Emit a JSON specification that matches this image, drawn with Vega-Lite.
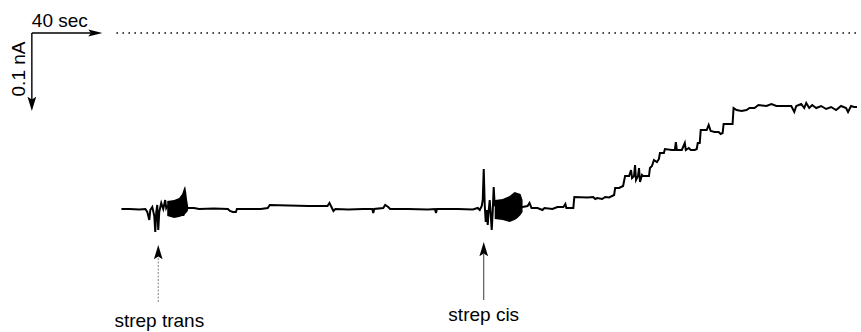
{
  "$schema": "https://vega.github.io/schema/vega-lite/v6.json",
  "width": 861,
  "height": 332,
  "autosize": {"type": "fit", "contains": "padding"},
  "padding": 0,
  "background": "white",
  "config": {"view": {"stroke": null}, "font": "Liberation Sans"},
  "datasets": {
    "trace": [
      {"t":122,"i":209},{"t":130,"i":209},{"t":140,"i":209.5},{"t":146,"i":209},{"t":148,"i":212},{"t":150,"i":220},{"t":151,"i":210},{"t":153,"i":207},{"t":155,"i":216},{"t":156,"i":232},{"t":157,"i":212},{"t":158,"i":205},{"t":159,"i":230},{"t":160,"i":212},{"t":162,"i":203},{"t":164,"i":209},{"t":166,"i":200},{"t":167,"i":208},{"t":168,"i":206},{"t":189,"i":208},
      {"t":195,"i":208},{"t":200,"i":209},{"t":215,"i":208.5},{"t":229,"i":209},{"t":231,"i":211},{"t":234,"i":212},{"t":237,"i":212},{"t":238,"i":209},{"t":250,"i":209},{"t":262,"i":209},{"t":269,"i":208},{"t":271,"i":205},{"t":290,"i":205.5},{"t":310,"i":206},{"t":329,"i":206},{"t":331,"i":203},{"t":333,"i":207},{"t":335,"i":211},{"t":337,"i":209},{"t":350,"i":209.5},{"t":365,"i":209},{"t":374,"i":209},{"t":375,"i":213},{"t":376,"i":209},{"t":385,"i":208},{"t":387,"i":205},{"t":390,"i":207},{"t":392,"i":209},{"t":410,"i":209},{"t":430,"i":209.5},{"t":437,"i":209},{"t":438,"i":213},{"t":439,"i":209},{"t":460,"i":209},{"t":475,"i":209.5},{"t":480,"i":208},{"t":482,"i":210},{"t":484,"i":206},{"t":485,"i":200},{"t":486,"i":169},{"t":487,"i":205},{"t":488,"i":222},{"t":489,"i":210},{"t":490,"i":225},{"t":491,"i":210},{"t":492,"i":200},{"t":493,"i":214},{"t":494,"i":230},{"t":495,"i":212},{"t":496,"i":187},{"t":497,"i":205},{"t":525,"i":207},
      {"t":530,"i":206},{"t":532,"i":203},{"t":534,"i":208},{"t":540,"i":208},{"t":545,"i":210},{"t":547,"i":208},{"t":555,"i":209},{"t":560,"i":207},{"t":566,"i":207},{"t":568,"i":204},{"t":569,"i":208},{"t":576,"i":208},{"t":577,"i":197},{"t":590,"i":197.5},{"t":596,"i":197},{"t":598,"i":199},{"t":600,"i":198},{"t":605,"i":199},{"t":608,"i":197},{"t":612,"i":197.5},{"t":617,"i":195},{"t":618,"i":188},{"t":622,"i":188},{"t":626,"i":186},{"t":628,"i":176},{"t":632,"i":176},{"t":634,"i":170},{"t":635,"i":178},{"t":637,"i":176},{"t":638,"i":165},{"t":639,"i":180},{"t":641,"i":176},{"t":642,"i":168},{"t":643,"i":182},{"t":645,"i":175},{"t":646,"i":176},{"t":652,"i":176},{"t":653,"i":168},{"t":655,"i":166},{"t":657,"i":160},{"t":660,"i":162},{"t":662,"i":159},{"t":663,"i":153},{"t":667,"i":153},{"t":668,"i":149},{"t":675,"i":150},{"t":678,"i":150},{"t":679,"i":142},{"t":680,"i":150},{"t":685,"i":150},{"t":688,"i":143},{"t":689,"i":150},{"t":692,"i":148},{"t":694,"i":150},{"t":698,"i":150},{"t":700,"i":149},{"t":701,"i":143},{"t":703,"i":143},{"t":704,"i":130},{"t":710,"i":130},{"t":712,"i":125},{"t":714,"i":131},{"t":718,"i":132},{"t":722,"i":132},{"t":724,"i":134},{"t":726,"i":133},{"t":727,"i":124},{"t":736,"i":124},{"t":737,"i":108},{"t":740,"i":110},{"t":745,"i":111},{"t":750,"i":110},{"t":753,"i":108},{"t":758,"i":108},{"t":762,"i":105},{"t":770,"i":106},{"t":775,"i":104},{"t":780,"i":106},{"t":790,"i":106},{"t":795,"i":106},{"t":798,"i":112},{"t":800,"i":106},{"t":805,"i":104},{"t":808,"i":108},{"t":810,"i":103},{"t":813,"i":108},{"t":816,"i":105},{"t":820,"i":108},{"t":825,"i":106},{"t":830,"i":109},{"t":835,"i":107},{"t":840,"i":110},{"t":845,"i":106},{"t":850,"i":108},{"t":852,"i":112},{"t":855,"i":106},{"t":858,"i":107},{"t":861,"i":107}
    ],
    "blocks": [
      {"b":"a","t":168,"hi":201,"lo":216},{"b":"a","t":175,"hi":200,"lo":218},{"b":"a","t":180,"hi":198,"lo":217},{"b":"a","t":183,"hi":194,"lo":216},{"b":"a","t":185,"hi":188,"lo":216},{"b":"a","t":186,"hi":186,"lo":214},{"b":"a","t":187,"hi":192,"lo":213},{"b":"a","t":188,"hi":200,"lo":212},{"b":"a","t":189,"hi":206,"lo":210},
      {"b":"b","t":497,"hi":200,"lo":219},{"b":"b","t":505,"hi":199,"lo":220},{"b":"b","t":512,"hi":196,"lo":222},{"b":"b","t":517,"hi":192,"lo":220},{"b":"b","t":520,"hi":193,"lo":218},{"b":"b","t":523,"hi":194,"lo":215},{"b":"b","t":525,"hi":200,"lo":212}
    ],
    "scalebar": [
      {"seg":"h","t":32,"i":33},{"seg":"h","t":92,"i":33},
      {"seg":"v","t":32,"i":33},{"seg":"v","t":32,"i":100}
    ],
    "heads": [
      {"t":95,"i":33,"dir":"right"},
      {"t":32,"i":103,"dir":"down"},
      {"t":159,"i":253,"dir":"up"},
      {"t":486,"i":250,"dir":"up"}
    ],
    "labelsc": [
      {"t":160,"i":327,"txt":"strep trans"},
      {"t":486,"i":321,"txt":"strep cis"}
    ]
  },
  "encoding": {
    "x": {"field":"t","type":"quantitative","scale":{"domain":[0,861],"nice":false,"zero":false},"axis":null},
    "y": {"field":"i","type":"quantitative","scale":{"domain":[0,332],"nice":false,"zero":false,"reverse":true},"axis":null}
  },
  "layer": [
    {
      "data": {"values": [{"t":117,"i":33},{"t":861,"i":33}]},
      "mark": {"type":"line","color":"black","strokeWidth":1.5,"strokeDash":[1.5,4.5]},
      "encoding": {}
    },
    {
      "data": {"name":"blocks"},
      "mark": {"type":"area","color":"black","opacity":1},
      "encoding": {"y":{"field":"hi","type":"quantitative"},"y2":{"field":"lo"},"detail":{"field":"b"}}
    },
    {
      "data": {"name":"trace"},
      "mark": {"type":"line","color":"black","strokeWidth":2},
      "encoding": {}
    },
    {
      "data": {"name":"scalebar"},
      "mark": {"type":"line","color":"black","strokeWidth":1.4},
      "encoding": {"detail":{"field":"seg"}}
    },
    {
      "data": {"values": [{"a":"trans","t":159,"i":302},{"a":"trans","t":159,"i":258},{"a":"cis","t":486,"i":300},{"a":"cis","t":486,"i":254}]},
      "mark": {"type":"line","strokeWidth":0.9},
      "encoding": {"detail":{"field":"a"},
        "strokeDash":{"field":"a","type":"nominal","scale":{"domain":["cis","trans"],"range":[[1,0],[2,1.5]]},"legend":null},
        "color":{"field":"a","type":"nominal","scale":{"domain":["cis","trans"],"range":["#222222","#777777"]},"legend":null}}
    },
    {
      "data": {"name":"heads"},
      "mark": {"type":"point","filled":true,"color":"black","opacity":1,"size":250,"strokeWidth":0},
      "encoding": {"shape":{"field":"dir","type":"nominal","scale":{"domain":["up","down","right"],"range":["M0,-1L0.55,0.8L0,0.45L-0.55,0.8Z","M0,1L0.55,-0.8L0,-0.45L-0.55,-0.8Z","M1,0L-0.8,0.45L-0.45,0L-0.8,-0.45Z"]},"legend":null}}
    },
    {
      "data": {"values": [{"t":32,"i":27,"txt":"40 sec"}]},
      "mark": {"type":"text","color":"black","fontSize":19,"align":"left","baseline":"alphabetic"},
      "encoding": {"text":{"field":"txt"}}
    },
    {
      "data": {"values": [{"t":25,"i":69,"txt":"0.1 nA"}]},
      "mark": {"type":"text","color":"black","fontSize":19,"align":"center","baseline":"alphabetic","angle":270},
      "encoding": {"text":{"field":"txt"}}
    },
    {
      "data": {"name":"labelsc"},
      "mark": {"type":"text","color":"black","fontSize":19,"align":"center","baseline":"alphabetic"},
      "encoding": {"text":{"field":"txt"}}
    }
  ]
}
